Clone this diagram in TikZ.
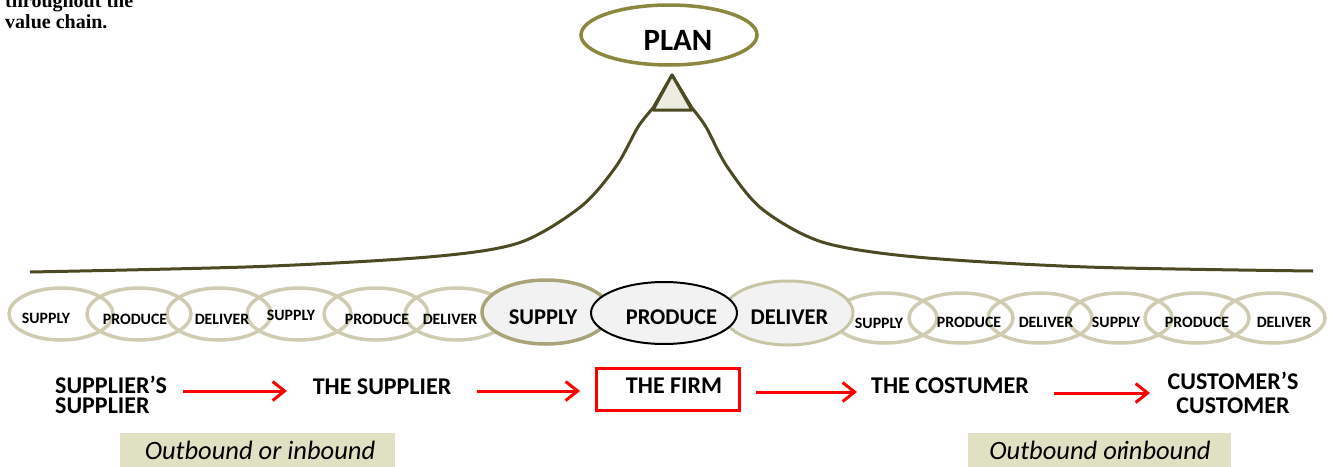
\documentclass[tikz,border=0pt]{standalone}
\usepackage{fontspec}
\setmainfont{Carlito}
\newfontfamily\timesf{Liberation Serif}
\usetikzlibrary{arrows.meta}
\definecolor{ringc}{RGB}{208,204,178}
\definecolor{supc}{RGB}{168,163,120}
\definecolor{delc}{RGB}{200,197,165}
\definecolor{planc}{RGB}{140,135,62}
\definecolor{curvec}{RGB}{76,74,34}
\definecolor{trifill}{RGB}{236,236,224}
\definecolor{bigfill}{RGB}{242,242,242}
\definecolor{boxc}{RGB}{224,224,194}
\tikzset{
  ring/.style={draw=ringc, line width=3.5pt},
  smalltxt/.style={font=\bfseries\fontsize{15.8}{16}\selectfont, inner sep=0pt},
  bigtxt/.style={font=\bfseries\fontsize{22.5}{23}\selectfont, inner sep=0pt},
  lbl/.style={font=\bfseries\fontsize{24}{20}\selectfont, inner sep=0pt},
  redarr/.style={draw=red, line width=3pt, -{Straight Barb[length=12pt,width=19pt]}},
  obox/.style={fill=boxc, minimum height=35pt, inner sep=0pt},
  otxt/.style={font=\itshape\fontsize{26.5}{27}\selectfont, inner sep=0pt},
  curve/.style={draw=curvec, line width=3pt},
}
\begin{document}
\begin{tikzpicture}[x=1pt,y=-1pt]
\useasboundingbox (0,0) rectangle (1329,466);

% top-left text
\node[anchor=base west, inner sep=0pt, font=\timesf\bfseries\fontsize{20}{20}\selectfont] (t1) at (5,7) {throughout the};
\node[anchor=base west, inner sep=0pt, font=\timesf\bfseries\fontsize{20}{20}\selectfont] (t2) at (5,28) {value chain.};

% curve
\draw[curve, line join=round] plot[smooth, tension=0.5] coordinates {(30,272) (260,266.5) (434,256.5) (520,242.5) (581,206.5) (616,166.5) (638,127) (653,108)}
  -- (672,75) -- plot[smooth, tension=0.5] coordinates {(692,108) (706,127) (727,166.5) (762,209) (822,242) (916,257) (1087,267) (1313,271)};
\draw[curve, fill=trifill, line join=round] (672,75) -- (653,110) -- (692,110) -- cycle;

% PLAN
\draw[draw=planc, line width=3.5pt, fill=white] (669,35) ellipse [x radius=88pt, y radius=30pt];
\node[font=\bfseries\fontsize{31}{31}\selectfont, inner sep=0pt] (plan) at (678,40) {PLAN};

% small rings left
\foreach \cx in {61,139,219,299,376,457}
  \draw[ring] (\cx,314) ellipse [x radius=52pt, y radius=26pt];
% small rings right
\foreach \cx in {885,961,1040,1120,1197,1273}
  \draw[ring] (\cx,318) ellipse [x radius=52pt, y radius=25pt];

% small texts left
\node[smalltxt] (ls1) at (46,318) {SUPPLY};
\node[smalltxt] (lp1) at (135,319) {PRODUCE};
\node[smalltxt] (ld1) at (222,319) {DELIVER};
\node[smalltxt] (ls2) at (291,315) {SUPPLY};
\node[smalltxt] (lp2) at (377,319) {PRODUCE};
\node[smalltxt] (ld2) at (450,319) {DELIVER};

% small texts right
\node[smalltxt] (rs1) at (879,323) {SUPPLY};
\node[smalltxt] (rp1) at (969,322) {PRODUCE};
\node[smalltxt] (rd1) at (1046,322) {DELIVER};
\node[smalltxt] (rs2) at (1116,322) {SUPPLY};
\node[smalltxt] (rp2) at (1197,322) {PRODUCE};
\node[smalltxt] (rd2) at (1284,322) {DELIVER};

% big rings
\draw[draw=supc, fill=bigfill, line width=3.5pt] (546,312) ellipse [x radius=64pt, y radius=32pt];
\draw[draw=delc, fill=bigfill, line width=3pt] (788,313) ellipse [x radius=65pt, y radius=32pt];
\draw[draw=black, fill=bigfill, line width=2pt] (664,313) ellipse [x radius=73pt, y radius=31pt];
\node[bigtxt] (bs) at (543,317) {SUPPLY};
\node[bigtxt] (bp) at (671.5,317) {PRODUCE};
\node[bigtxt] (bd) at (789.5,317) {DELIVER};

% bottom chain
\node[lbl, anchor=north west, align=left] (ss) at (55,376) {SUPPLIER’S\\SUPPLIER};
\node[lbl] (sup) at (382,387) {THE SUPPLIER};
\node[draw=red, line width=3pt, minimum width=143pt, minimum height=42pt, inner sep=0pt] (firm) at (668,389.5) {};
\node[lbl] (firmt) at (674,386) {THE FIRM};
\node[lbl] (cos) at (950,386) {THE COSTUMER};
\node[lbl, anchor=north, align=center, font=\bfseries\fontsize{24}{24}\selectfont] (cc) at (1233,372) {CUSTOMER’S\\CUSTOMER};

\coordinate (a1s) at (183,391); \coordinate (a1e) at (287,391);
\coordinate (a2s) at (477,391); \coordinate (a2e) at (580,391);
\coordinate (a3s) at (756,392); \coordinate (a3e) at (857,392);
\coordinate (a4s) at (1054,393); \coordinate (a4e) at (1150,393);
\draw[redarr] (a1s) -- (a1e);
\draw[redarr] (a2s) -- (a2e);
\draw[redarr] (a3s) -- (a3e);
\draw[redarr] (a4s) -- (a4e);

% outbound boxes
\node[obox, minimum width=275pt] (ob1) at (257.5,450.5) {};
\node[otxt] (ob1t) at (260,450.5) {Outbound or inbound};
\node[obox, minimum width=263pt] (ob2) at (1099.5,450.5) {};
\node[otxt] (ob2t) at (1100,450.5) {Outbound or\hspace{-0.12em}inbound};
\end{tikzpicture}
\end{document}
